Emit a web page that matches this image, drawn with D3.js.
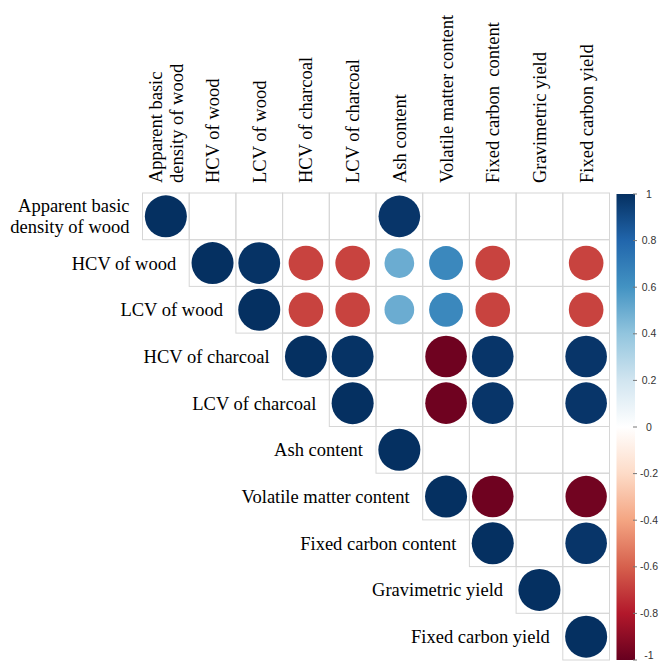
<!DOCTYPE html>
<html>
<head>
<meta charset="utf-8">
<script src="https://cdn.jsdelivr.net/npm/d3@7"></script>
<style>
html,body{margin:0;padding:0;background:#fff;overflow:hidden;}
svg{display:block;}
</style>
</head>
<body>
<div id="chart"></div>
<script>
// ---- data ----
const variables = [
  "Apparent basic density of wood",
  "HCV of wood",
  "LCV of wood",
  "HCV of charcoal",
  "LCV of charcoal",
  "Ash content",
  "Volatile matter content",
  "Fixed carbon content",
  "Gravimetric yield",
  "Fixed carbon yield"
];
const rowLabels = [
  ["Apparent basic", "density of wood"],
  ["HCV of wood"], ["LCV of wood"], ["HCV of charcoal"], ["LCV of charcoal"],
  ["Ash content"], ["Volatile matter content"], ["Fixed carbon content"],
  ["Gravimetric yield"], ["Fixed carbon yield"]
];
const colLabels = [
  ["Apparent basic", "density of wood"],
  ["HCV of wood"], ["LCV of wood"], ["HCV of charcoal"], ["LCV of charcoal"],
  ["Ash content"], ["Volatile matter content"], ["Fixed carbon  content"],
  ["Gravimetric yield"], ["Fixed carbon yield"]
];
// upper triangle correlations (null = not significant / blank)
const corrRows = [
  [1, null, null, null, null, 0.98, null, null, null, null],
  [null, 1, 0.99, -0.68, -0.68, 0.5, 0.65, -0.68, null, -0.68],
  [null, null, 1, -0.68, -0.68, 0.5, 0.65, -0.68, null, -0.68],
  [null, null, null, 1, 0.99, null, -0.98, 0.98, null, 0.98],
  [null, null, null, null, 1, null, -0.98, 0.98, null, 0.98],
  [null, null, null, null, null, 1, null, null, null, null],
  [null, null, null, null, null, null, 1, -0.98, null, -0.97],
  [null, null, null, null, null, null, null, 1, null, 0.98],
  [null, null, null, null, null, null, null, null, 1, null],
  [null, null, null, null, null, null, null, null, null, 1]
];
const legendTicks = [1, 0.8, 0.6, 0.4, 0.2, 0, -0.2, -0.4, -0.6, -0.8, -1];
const paletteStops = [-1, -0.8, -0.6, -0.4, -0.2, 0, 0.2, 0.4, 0.6, 0.8, 1];
const paletteColors = ["#67001F", "#B2182B", "#D6604D", "#F4A582", "#FDDBC7", "#FFFFFF",
                       "#D1E5F0", "#92C5DE", "#4393C3", "#2166AC", "#053061"];

// ---- layout ----
const W = 659, H = 663;
const gridX0 = 142.5, gridY0 = 193, cell = 46.7;
const n = variables.length;

const svg = d3.select("#chart").append("svg").attr("width", W).attr("height", H);

const x = d3.scaleBand().domain(d3.range(n)).range([gridX0, gridX0 + n * cell]);
const y = d3.scaleBand().domain(d3.range(n)).range([gridY0, gridY0 + n * cell]);
const color = d3.scaleLinear().domain(paletteStops).range(paletteColors).interpolate(d3.interpolateRgb);
const rScale = d3.scaleSqrt().domain([0, 1]).range([0, 0.9 * cell / 2]);

// cells
const cells = [];
corrRows.forEach((row, i) => row.forEach((v, j) => { if (j >= i) cells.push({i, j, v}); }));

svg.append("g").selectAll("rect").data(cells).join("rect")
  .attr("x", d => x(d.j)).attr("y", d => y(d.i))
  .attr("width", x.bandwidth()).attr("height", y.bandwidth())
  .attr("fill", "none").attr("stroke", "#D6D6D6").attr("stroke-width", 1);

svg.append("g").selectAll("circle").data(cells.filter(d => d.v !== null)).join("circle")
  .attr("cx", d => x(d.j) + x.bandwidth() / 2)
  .attr("cy", d => y(d.i) + y.bandwidth() / 2)
  .attr("r", d => rScale(Math.abs(d.v)))
  .attr("fill", d => color(d.v));

// row labels
const fontFam = "'Liberation Serif','Times New Roman',serif";
const fs = 18.5, lh = 21;
const rowG = svg.append("g").attr("font-family", fontFam).attr("font-size", fs).attr("fill", "#000");
rowLabels.forEach((lines, i) => {
  const t = rowG.append("text")
    .attr("text-anchor", "end")
    .attr("x", x(i) - 14)
    .attr("y", y(i) + y.bandwidth() / 2);
  lines.forEach((s, k) => {
    t.append("tspan").attr("x", x(i) - 13)
      .attr("dy", k === 0 ? (0.35 * fs - (lines.length - 1) * lh / 2) : lh)
      .text(s);
  });
});

// column labels (rotated)
const colG = svg.append("g").attr("font-family", fontFam).attr("font-size", fs).attr("fill", "#000");
colLabels.forEach((lines, j) => {
  const cx = x(j) + x.bandwidth() / 2;
  const by = gridY0 - 10;
  lines.forEach((s, k) => {
    const off = (k - (lines.length - 1) / 2) * lh;
    colG.append("text")
      .attr("transform", `translate(${cx + off + 0.35 * fs},${by}) rotate(-90)`)
      .attr("text-anchor", "start")
      .style("white-space", "pre")
      .text(s);
  });
});

// colour legend
const barX = 616.5, barW = 18.5, barTop = 194, barBot = 660;
const ly = d3.scaleLinear().domain([-1, 1]).range([barBot, barTop]);
const defs = svg.append("defs");
const grad = defs.append("linearGradient").attr("id", "cbar")
  .attr("x1", 0).attr("y1", 1).attr("x2", 0).attr("y2", 0);
paletteStops.forEach((s, k) => {
  grad.append("stop").attr("offset", (s + 1) / 2).attr("stop-color", paletteColors[k]);
});
svg.append("rect").attr("x", barX).attr("y", barTop).attr("width", barW).attr("height", barBot - barTop)
  .attr("fill", "url(#cbar)");

const tickG = svg.append("g");
tickG.selectAll("line").data(legendTicks).join("line")
  .attr("x1", barX + barW - 2).attr("x2", barX + barW + 2)
  .attr("y1", d => ly(d)).attr("y2", d => ly(d))
  .attr("stroke", "#777").attr("stroke-width", 1);
tickG.selectAll("text").data(legendTicks).join("text")
  .attr("x", 649).attr("y", d => Math.min(ly(d), H - 8)).attr("dy", "0.35em")
  .attr("text-anchor", "middle")
  .attr("font-family", "'Liberation Sans',Arial,sans-serif").attr("font-size", 10.5)
  .attr("fill", "#333")
  .text(d => String(d));
</script>
</body>
</html>
